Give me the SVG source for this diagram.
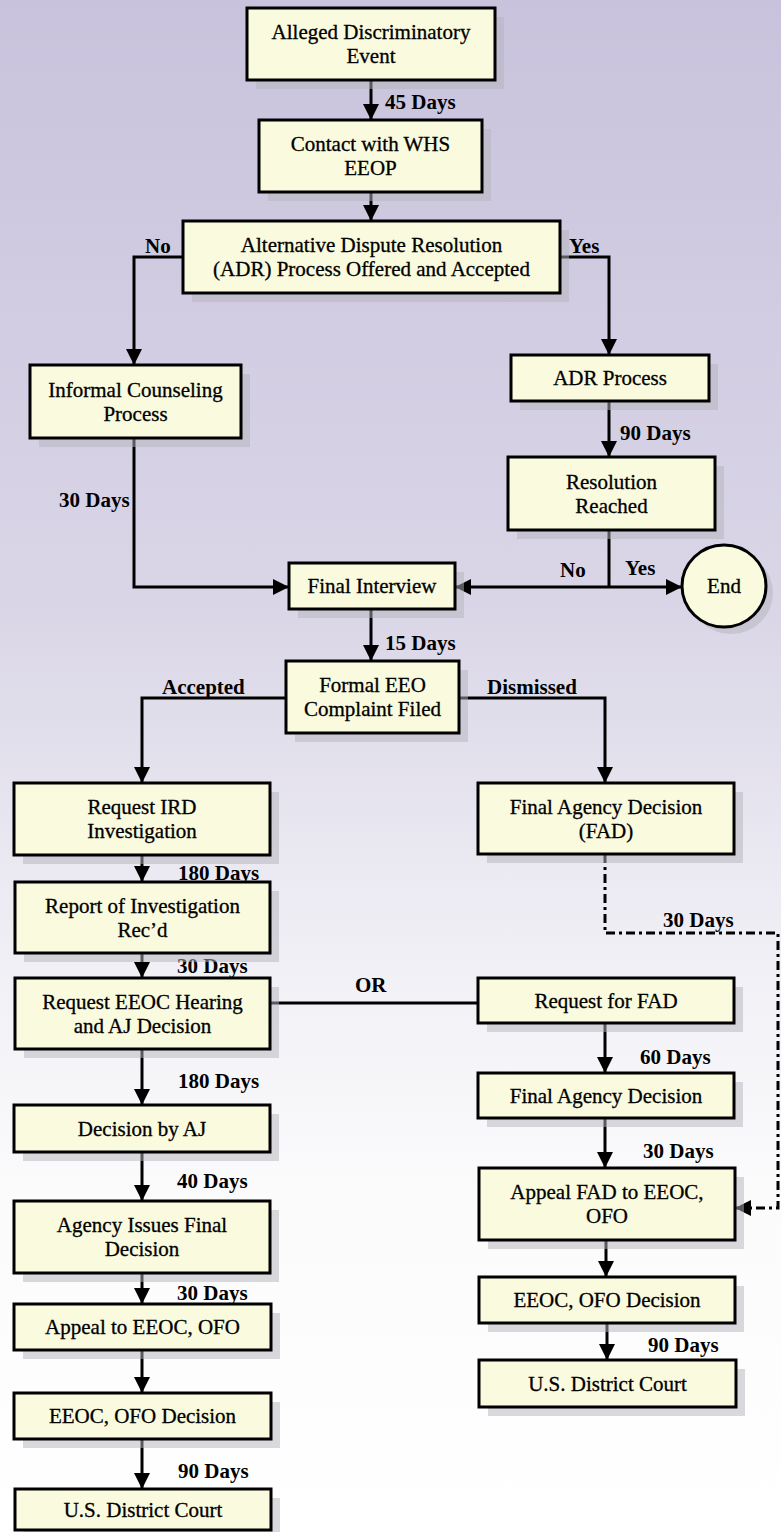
<svg xmlns="http://www.w3.org/2000/svg" width="781" height="1532" viewBox="0 0 781 1532">
<defs>
<linearGradient id="bg" x1="0" y1="0" x2="0" y2="1">
<stop offset="0" stop-color="#c8c2dc"/>
<stop offset="0.4" stop-color="#dad6e7"/>
<stop offset="0.62" stop-color="#f0eff5"/>
<stop offset="0.78" stop-color="#fbfbfc"/>
<stop offset="1" stop-color="#ffffff"/>
</linearGradient>
<marker id="ah" markerUnits="userSpaceOnUse" markerWidth="16" markerHeight="16" viewBox="0 0 16 16" refX="16" refY="8" orient="auto">
<path d="M0,0 L16,8 L0,16 z" fill="#000"/>
</marker>
<style>
.box{fill:#fafade;stroke:#000;stroke-width:3}
.sh{fill:#b4b4bc;opacity:0.5}
.t{font-family:"Liberation Serif","Times New Roman",serif;font-size:21px;fill:#000;stroke:#000;stroke-width:0.3;text-anchor:middle}
.l{font-family:"Liberation Serif","Times New Roman",serif;font-size:21px;font-weight:bold;fill:#000}
.c{fill:none;stroke:#000;stroke-width:3}
.a{marker-end:url(#ah)}
.d{stroke-dasharray:9 4 3 4}
</style>
</defs>
<rect x="0" y="0" width="781" height="1532" fill="url(#bg)"/>

<g id="connectors">
<path class="c a" d="M371,80 V120"/>
<path class="c a" d="M371,192 V221"/>
<path class="c a" d="M183,257 H134 V365"/>
<path class="c a" d="M560,257 H609 V355"/>
<path class="c a" d="M609,401 V457"/>
<path class="c" d="M609,530 V587"/>
<path class="c a" d="M609,587 H455"/>
<path class="c a" d="M609,587 H682"/>
<path class="c a" d="M134,438 V587 H289"/>
<path class="c a" d="M371,609 V661"/>
<path class="c a" d="M286,698 H142 V783"/>
<path class="c a" d="M459,698 H605 V783"/>
<path class="c a" d="M142,855 V882"/>
<path class="c a" d="M142,953 V978"/>
<path class="c" d="M270,1003 H478"/>
<path class="c d a" d="M605,854 V933 H778 V1208 H735"/>
<path class="c a" d="M605,1023 V1073"/>
<path class="c a" d="M142,1049 V1105"/>
<path class="c a" d="M605,1118 V1168"/>
<path class="c a" d="M142,1152 V1201"/>
<path class="c a" d="M606,1240 V1277"/>
<path class="c a" d="M142,1273 V1304"/>
<path class="c a" d="M607,1323 V1360"/>
<path class="c a" d="M142,1350 V1393"/>
<path class="c a" d="M142,1439 V1489"/>
<text class="l" x="385" y="109">45 Days</text>
<text class="l" x="145" y="253">No</text>
<text class="l" x="569" y="253">Yes</text>
<text class="l" x="620" y="440">90 Days</text>
<text class="l" x="59" y="507">30 Days</text>
<text class="l" x="560" y="577">No</text>
<text class="l" x="625" y="575">Yes</text>
<text class="l" x="385" y="650">15 Days</text>
<text class="l" x="162" y="694">Accepted</text>
<text class="l" x="487" y="694">Dismissed</text>
<text class="l" x="178" y="880">180 Days</text>
<text class="l" x="663" y="927">30 Days</text>
<text class="l" x="177" y="973">30 Days</text>
<text class="l" x="355" y="992">OR</text>
<text class="l" x="640" y="1064">60 Days</text>
<text class="l" x="178" y="1088">180 Days</text>
<text class="l" x="643" y="1158">30 Days</text>
<text class="l" x="177" y="1188">40 Days</text>
<text class="l" x="177" y="1300">30 Days</text>
<text class="l" x="648" y="1352">90 Days</text>
<text class="l" x="178" y="1478">90 Days</text>
</g>

<g id="n-alleged"><rect class="sh" x="256" y="17" width="248" height="72"/><rect class="box" x="247" y="8" width="248" height="72"/><text class="t" x="371" y="39">Alleged Discriminatory</text><text class="t" x="371" y="63">Event</text></g>
<g id="n-contact"><rect class="sh" x="268" y="129" width="223" height="72"/><rect class="box" x="259" y="120" width="223" height="72"/><text class="t" x="370.5" y="151">Contact with WHS</text><text class="t" x="370.5" y="175">EEOP</text></g>
<g id="n-adr"><rect class="sh" x="192" y="230" width="377" height="72"/><rect class="box" x="183" y="221" width="377" height="72"/><text class="t" x="371.5" y="252">Alternative Dispute Resolution</text><text class="t" x="371.5" y="276">(ADR) Process Offered and Accepted</text></g>
<g id="n-informal"><rect class="sh" x="39" y="374" width="211" height="73"/><rect class="box" x="30" y="365" width="211" height="73"/><text class="t" x="135.5" y="396.5">Informal Counseling</text><text class="t" x="135.5" y="420.5">Process</text></g>
<g id="n-adrprocess"><rect class="sh" x="520" y="364" width="198" height="46"/><rect class="box" x="511" y="355" width="198" height="46"/><text class="t" x="610" y="385">ADR Process</text></g>
<g id="n-resolution"><rect class="sh" x="517" y="466" width="207" height="73"/><rect class="box" x="508" y="457" width="207" height="73"/><text class="t" x="611.5" y="488.5">Resolution</text><text class="t" x="611.5" y="512.5">Reached</text></g>
<g id="n-end"><ellipse class="sh" cx="731" cy="593" rx="42" ry="41"/><ellipse class="box" cx="724" cy="586" rx="42" ry="41"/><text class="t" x="724" y="593">End</text></g>
<g id="n-finalinterview"><rect class="sh" x="298" y="572" width="166" height="46"/><rect class="box" x="289" y="563" width="166" height="46"/><text class="t" x="372" y="593">Final Interview</text></g>
<g id="n-formal"><rect class="sh" x="295" y="670" width="173" height="72"/><rect class="box" x="286" y="661" width="173" height="72"/><text class="t" x="372.5" y="692">Formal EEO</text><text class="t" x="372.5" y="716">Complaint Filed</text></g>
<g id="n-ird"><rect class="sh" x="23" y="792" width="256" height="72"/><rect class="box" x="14" y="783" width="256" height="72"/><text class="t" x="142" y="814">Request IRD</text><text class="t" x="142" y="838">Investigation</text></g>
<g id="n-fad"><rect class="sh" x="487" y="792" width="256" height="71"/><rect class="box" x="478" y="783" width="256" height="71"/><text class="t" x="606" y="813.5">Final Agency Decision</text><text class="t" x="606" y="837.5">(FAD)</text></g>
<g id="n-report"><rect class="sh" x="24" y="891" width="255" height="71"/><rect class="box" x="15" y="882" width="255" height="71"/><text class="t" x="142.5" y="912.5">Report of Investigation</text><text class="t" x="142.5" y="936.5">Rec’d</text></g>
<g id="n-hearing"><rect class="sh" x="24" y="987" width="255" height="71"/><rect class="box" x="15" y="978" width="255" height="71"/><text class="t" x="142.5" y="1008.5">Request EEOC Hearing</text><text class="t" x="142.5" y="1032.5">and AJ Decision</text></g>
<g id="n-reqfad"><rect class="sh" x="487" y="987" width="256" height="45"/><rect class="box" x="478" y="978" width="256" height="45"/><text class="t" x="606" y="1007.5">Request for FAD</text></g>
<g id="n-aj"><rect class="sh" x="23" y="1114" width="256" height="47"/><rect class="box" x="14" y="1105" width="256" height="47"/><text class="t" x="142" y="1135.5">Decision by AJ</text></g>
<g id="n-fad2"><rect class="sh" x="487" y="1082" width="256" height="45"/><rect class="box" x="478" y="1073" width="256" height="45"/><text class="t" x="606" y="1102.5">Final Agency Decision</text></g>
<g id="n-agencyfinal"><rect class="sh" x="23" y="1210" width="256" height="72"/><rect class="box" x="14" y="1201" width="256" height="72"/><text class="t" x="142" y="1232">Agency Issues Final</text><text class="t" x="142" y="1256">Decision</text></g>
<g id="n-appealfad"><rect class="sh" x="488" y="1177" width="256" height="72"/><rect class="box" x="479" y="1168" width="256" height="72"/><text class="t" x="607" y="1199">Appeal FAD to EEOC,</text><text class="t" x="607" y="1223">OFO</text></g>
<g id="n-appeal"><rect class="sh" x="23" y="1313" width="257" height="46"/><rect class="box" x="14" y="1304" width="257" height="46"/><text class="t" x="142.5" y="1334">Appeal to EEOC, OFO</text></g>
<g id="n-ofo-r"><rect class="sh" x="488" y="1286" width="256" height="46"/><rect class="box" x="479" y="1277" width="256" height="46"/><text class="t" x="607" y="1307">EEOC, OFO Decision</text></g>
<g id="n-ofo-l"><rect class="sh" x="23" y="1402" width="257" height="46"/><rect class="box" x="14" y="1393" width="257" height="46"/><text class="t" x="142.5" y="1423">EEOC, OFO Decision</text></g>
<g id="n-court-r"><rect class="sh" x="488" y="1369" width="257" height="47"/><rect class="box" x="479" y="1360" width="257" height="47"/><text class="t" x="607.5" y="1390.5">U.S. District Court</text></g>
<g id="n-court-l"><rect class="sh" x="24" y="1498" width="256" height="41"/><rect class="box" x="15" y="1489" width="256" height="41"/><text class="t" x="143" y="1517">U.S. District Court</text></g>
</svg>
